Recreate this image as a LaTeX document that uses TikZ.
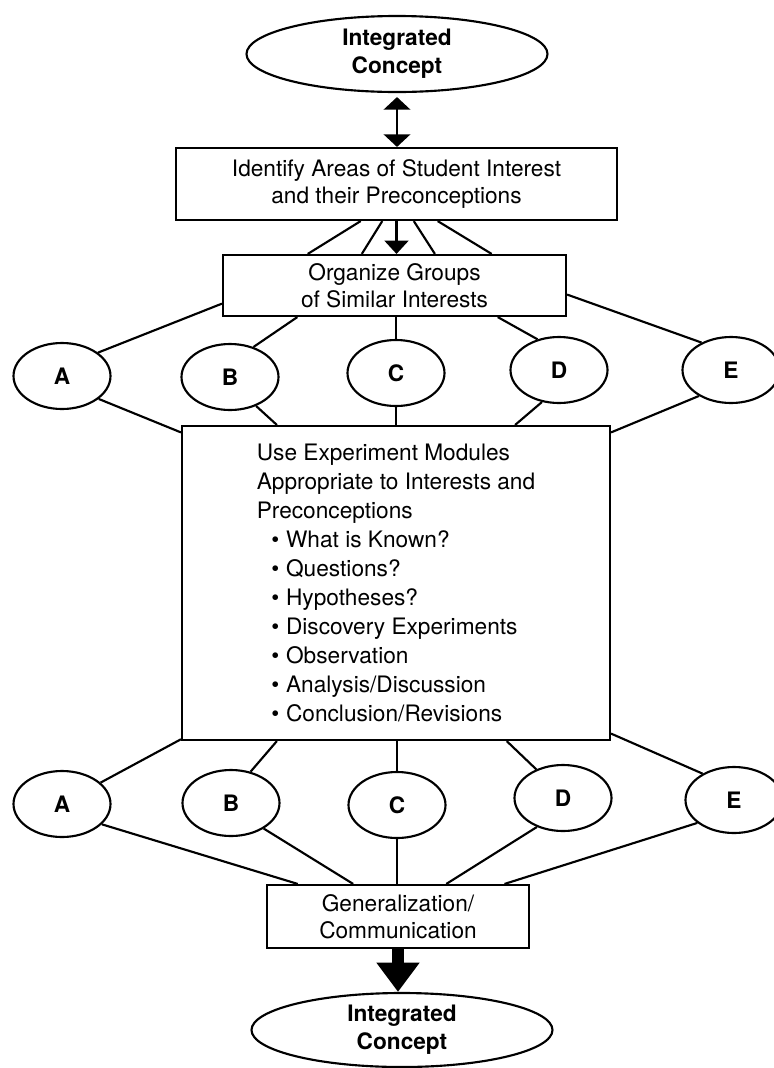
\documentclass[tikz,border=0pt]{standalone}
\usepackage{fontspec}
\setmainfont{TeX Gyre Heros}
\usetikzlibrary{%
    arrows.meta,
    calc,
    positioning,
    shapes.geometric
}
\tikzset{
    box/.style = {draw, line width=1.6pt, rectangle, align=center, inner sep=0pt},
    oval/.style = {draw, line width=1.6pt, ellipse, align=center, inner sep=0pt,
        font=\fontsize{17}{21}\selectfont\bfseries, minimum width=225.75pt, minimum height=57pt},
    letter/.style = {draw, line width=1.6pt, ellipse, inner sep=0pt,
        font=\fontsize{17}{21}\selectfont\bfseries, minimum width=72.75pt, minimum height=49.5pt},
    link/.style = {line width=1.6pt},
    headarrow/.style = {line width=1.6pt, -{Triangle[length=10pt,width=18pt]}},
    botharrow/.style = {line width=1.6pt, {Triangle[length=9.5pt,width=20pt]}-{Triangle[length=9.5pt,width=20pt]}},
    bigarrow/.style = {line width=9pt, -{Triangle[length=22pt,width=31pt]}}
}
\newcommand\itm[1]{\hspace*{11pt}\textbullet\hspace{5pt}#1}

\begin{document}
\begin{tikzpicture}[x=0.75pt, y=-0.75pt, font=\fontsize{17}{20.5}\selectfont]
    \useasboundingbox (0,0) rectangle (774,1068);

    \node[oval] (topell) at (397,54) {Integrated\\Concept};
    \node[box, minimum width=330.75pt, minimum height=54pt] (idbox) at (396.5,184)
        {Identify Areas of Student Interest\\and their Preconceptions};
    \node[box, minimum width=257.25pt, minimum height=45.75pt] (orgbox) at (394.5,285.5)
        {Organize Groups\\of Similar Interests};
    \node[box, minimum width=321pt, minimum height=235.5pt, align=left,
        font=\fontsize{17}{21.7}\selectfont] (mainbox) at (396,583)
        {Use Experiment Modules\\Appropriate to Interests and\\Preconceptions\\%
         \itm{What is Known?}\\\itm{Questions?}\\\itm{Hypotheses?}\\%
         \itm{Discovery Experiments}\\\itm{Observation}\\%
         \itm{Analysis/Discussion}\\\itm{Conclusion/Revisions}};
    \node[box, minimum width=196.5pt, minimum height=47.25pt] (genbox) at (398,916.5)
        {Generalization/\\Communication};
    \node[oval, minimum height=55.5pt] (botell) at (402,1030) {Integrated\\Concept};

    % the two rows of groups
    \foreach \Label/\x/\y in {A/62/376, B/230/377, C/396/373, D/559/370, E/731/370}
        \node[letter] (\Label1) at (\x,\y) {\Label};
    \foreach \Label/\x/\y in {A/62/804, B/231/803, C/397/805, D/563/798, E/734/800}
        \node[letter] (\Label2) at (\x,\y) {\Label};

    \draw[botharrow, shorten <=3pt] (topell.south) -- (topell.south |- idbox.north);
    \foreach \a/\b in {226/160, 249/136, 295/38, 318/18}
        \draw[link] (idbox.\a) -- (orgbox.\b);
    \draw[headarrow] (idbox.south) -- (idbox.south |- orgbox.north);

    % groups to the boxes
    \foreach \Label/\a/\b in {A/33/186, B/52/198, D/125/343, E/137/357}
        \draw[link] (\Label1.\a) -- (orgbox.\b);
    \foreach \Label/\a/\b in {A/328/145, B/312/127, D/242/53, E/219/35}
        \draw[link] (\Label1.\a) -- (mainbox.\b);
    \draw[link] (C1.north) -- (C1.north |- orgbox.south);
    \draw[link] (C1.south) -- (C1.south |- mainbox.north);

    \foreach \Label/\a/\b in {A/29/216, B/58/233, D/133/305, E/140/325}
        \draw[link] (\Label2.\a) -- (mainbox.\b);
    \foreach \Label/\a/\b in {A/333/162, B/322/144, D/228/34, E/212/17}
        \draw[link] (\Label2.\a) -- (genbox.\b);
    \draw[link] (C2.north) -- (C2.north |- mainbox.south);
    \draw[link] (C2.south) -- (C2.south |- genbox.north);

    \draw[bigarrow] (genbox.south) -- (genbox.south |- botell.north);
\end{tikzpicture}
\end{document}
